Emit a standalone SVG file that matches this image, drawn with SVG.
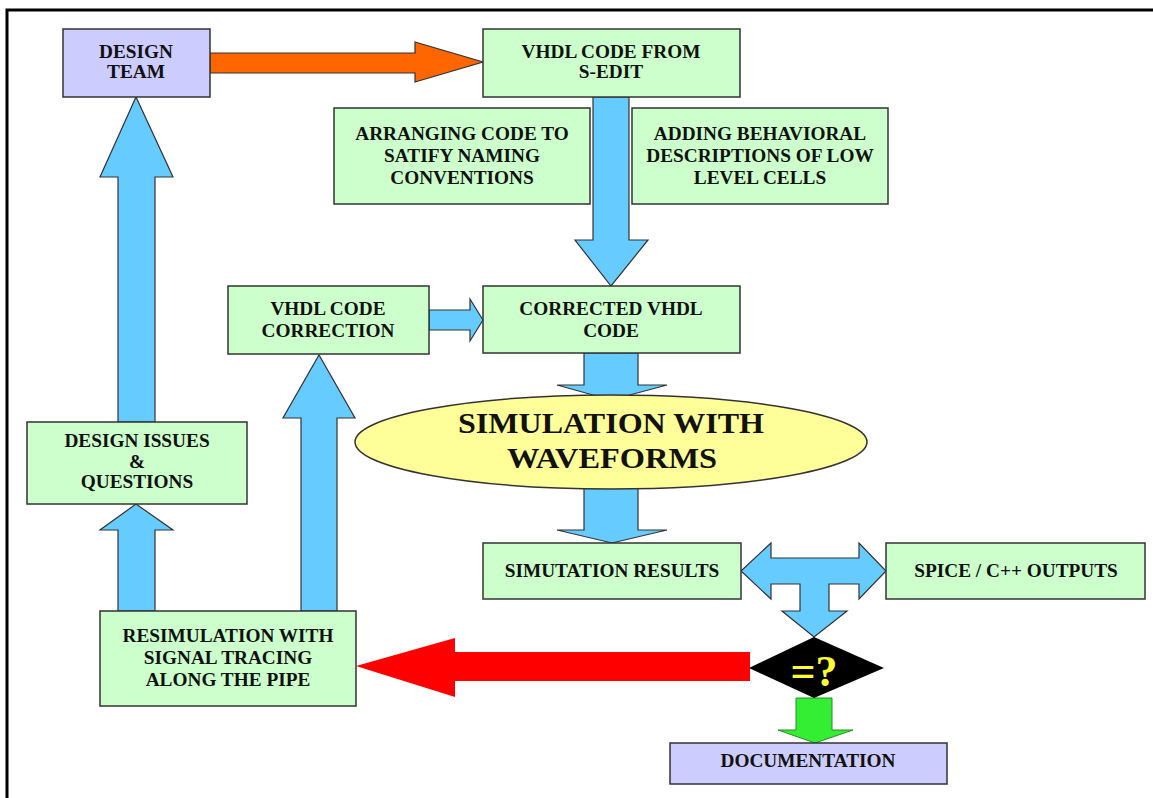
<svg xmlns="http://www.w3.org/2000/svg" width="1153" height="798" viewBox="0 0 1153 798">
  <style>
    .box { stroke: #333; stroke-width: 1.5; }
    .green { fill: #ccffcc; }
    .lav { fill: #ccccff; }
    .blue { fill: #66ccff; stroke: #333; stroke-width: 1.2; stroke-linejoin: miter; }
    .lbl { font-family: "Liberation Serif", "Times New Roman", serif; font-weight: bold; font-size: 19.3px; fill: #111; text-anchor: middle; }
    .big { font-family: "Liberation Serif", "Times New Roman", serif; font-weight: bold; font-size: 30px; fill: #111; text-anchor: middle; }
  </style>

  <rect x="0" y="0" width="1153" height="798" fill="#ffffff"/>
  <!-- page frame: top and left rules -->
  <path d="M7,798 V10 H1153" fill="none" stroke="#000" stroke-width="3"/>

  <g id="connectors">
    <!-- design team to VHDL code from S-EDIT -->
    <polygon points="210,53 415,53 415,42 483,62 415,82 415,73 210,73" fill="#ff6600" stroke="#333" stroke-width="1.2"/>
    <!-- S-EDIT code down to corrected code -->
    <polygon class="blue" points="593,97 629,97 629,240 648,240 611,286 575,240 593,240"/>
    <!-- correction to corrected code -->
    <polygon class="blue" points="429,310 470,310 470,299 483,320 470,341 470,330 429,330"/>
    <!-- corrected code to simulation -->
    <polygon class="blue" points="584,353 638,353 638,385 667,385 611,400 557,385 584,385"/>
    <!-- simulation to results -->
    <polygon class="blue" points="584,470 638,470 638,530 667,530 612,543 557,530 584,530"/>
    <!-- design issues up to design team -->
    <polygon class="blue" points="118,422 118,177 100,177 136,97 173,177 155,177 155,422"/>
    <!-- resimulation up to design issues -->
    <polygon class="blue" points="118,611 118,530 100,530 136,504 173,530 155,530 155,611"/>
    <!-- resimulation up to code correction -->
    <polygon class="blue" points="301,611 301,418 283,418 319,355 355,418 337,418 337,611"/>
    <!-- results / outputs comparison, down to the decision -->
    <polygon class="blue" points="741,571 771,543 771,558 859,558 859,543 886,571 859,599 859,584 829,584 829,611 847,611 814,637 782,611 800,611 800,584 771,584 771,599"/>
    <!-- mismatch back to resimulation -->
    <polygon points="750,652 455,652 455,638 356,666 455,697 455,681 750,681" fill="#ff0000"/>
    <!-- match to documentation -->
    <polygon points="796,698 832,698 832,730 853,730 815,743 778,730 796,730" fill="#33ee33" stroke="#2a8a2a" stroke-width="1"/>
  </g>

  <g id="design-team">
    <rect class="box lav" x="63" y="29" width="147" height="68"/>
    <text class="lbl" x="136" y="58">DESIGN</text>
    <text class="lbl" x="136" y="78">TEAM</text>
  </g>

  <g id="vhdl-from-sedit">
    <rect class="box green" x="483" y="29" width="257" height="68"/>
    <text class="lbl" x="611" y="58">VHDL CODE FROM</text>
    <text class="lbl" x="611" y="78">S-EDIT</text>
  </g>

  <g id="arranging-code">
    <rect class="box green" x="334" y="108" width="256" height="96"/>
    <text class="lbl" x="462" y="140">ARRANGING CODE TO</text>
    <text class="lbl" x="462" y="162">SATIFY NAMING</text>
    <text class="lbl" x="462" y="184">CONVENTIONS</text>
  </g>

  <g id="behavioral-descriptions">
    <rect class="box green" x="632" y="108" width="256" height="96"/>
    <text class="lbl" x="760" y="140">ADDING BEHAVIORAL</text>
    <text class="lbl" x="760" y="162">DESCRIPTIONS OF LOW</text>
    <text class="lbl" x="760" y="184">LEVEL CELLS</text>
  </g>

  <g id="code-correction">
    <rect class="box green" x="228" y="286" width="201" height="68"/>
    <text class="lbl" x="328" y="315">VHDL CODE</text>
    <text class="lbl" x="328" y="337">CORRECTION</text>
  </g>

  <g id="corrected-code">
    <rect class="box green" x="483" y="286" width="257" height="67"/>
    <text class="lbl" x="611" y="315">CORRECTED VHDL</text>
    <text class="lbl" x="611" y="337">CODE</text>
  </g>

  <g id="simulation">
    <ellipse cx="611" cy="442" rx="256" ry="47" fill="#ffff99" stroke="#333" stroke-width="1.5"/>
    <text class="big" x="611" y="433" textLength="306" lengthAdjust="spacingAndGlyphs">SIMULATION WITH</text>
    <text class="big" x="612" y="468" textLength="210" lengthAdjust="spacingAndGlyphs">WAVEFORMS</text>
  </g>

  <g id="design-issues">
    <rect class="box green" x="27" y="422" width="220" height="82"/>
    <text class="lbl" x="137" y="447">DESIGN ISSUES</text>
    <text class="lbl" x="137" y="468">&amp;</text>
    <text class="lbl" x="137" y="488">QUESTIONS</text>
  </g>

  <g id="resimulation">
    <rect class="box green" x="100" y="611" width="256" height="95"/>
    <text class="lbl" x="228" y="642">RESIMULATION WITH</text>
    <text class="lbl" x="228" y="664">SIGNAL TRACING</text>
    <text class="lbl" x="228" y="686">ALONG THE PIPE</text>
  </g>

  <g id="simulation-results">
    <rect class="box green" x="483" y="543" width="258" height="56"/>
    <text class="lbl" x="612" y="577">SIMUTATION RESULTS</text>
  </g>

  <g id="spice-outputs">
    <rect class="box green" x="886" y="543" width="259" height="56"/>
    <text class="lbl" x="1016" y="577">SPICE / C++ OUTPUTS</text>
  </g>

  <g id="comparison">
    <polygon points="814,637 884,668 814,698 749,668" fill="#000"/>
    <text x="814" y="686" font-family="Liberation Serif, Times New Roman, serif" font-weight="bold" font-size="44" fill="#ffff33" text-anchor="middle">=?</text>
  </g>

  <g id="documentation">
    <rect class="box lav" x="670" y="743" width="277" height="41"/>
    <text class="lbl" x="808" y="767">DOCUMENTATION</text>
  </g>
</svg>
